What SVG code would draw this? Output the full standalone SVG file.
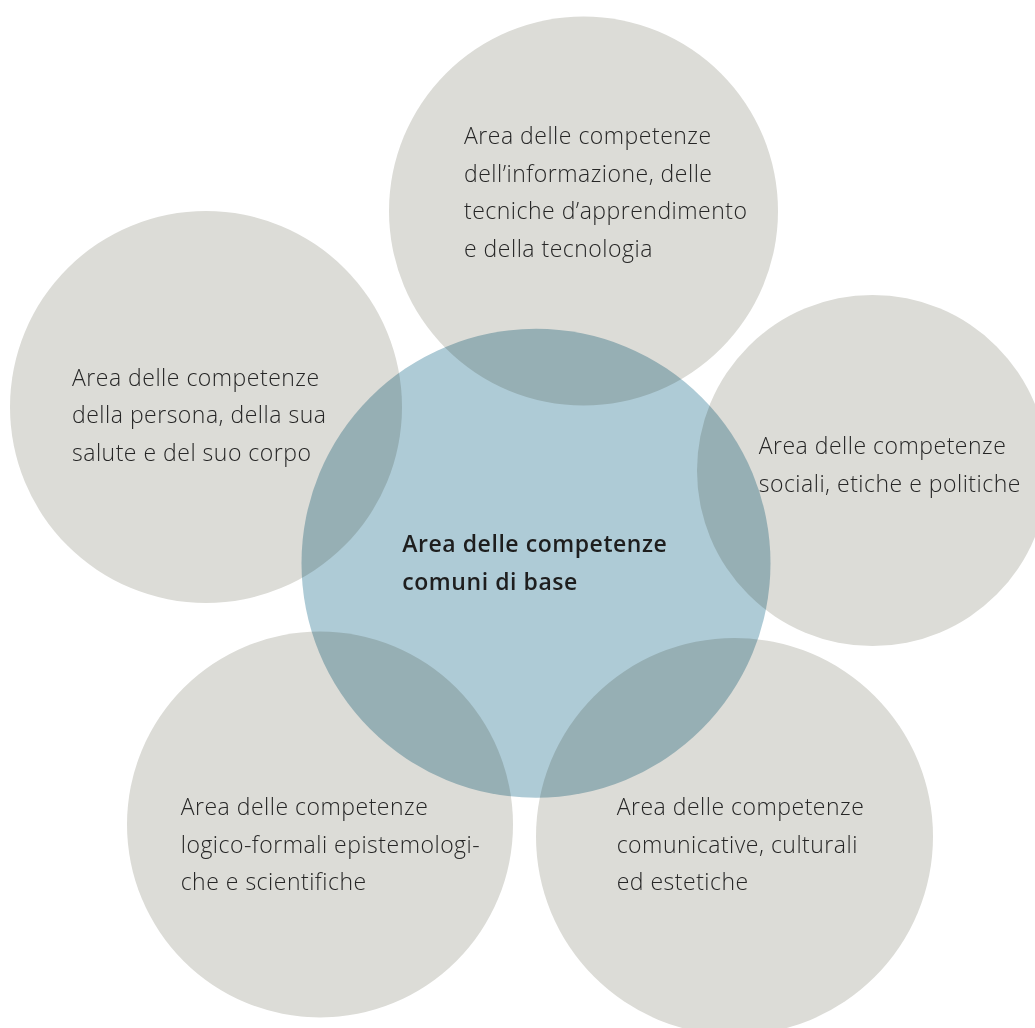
<svg xmlns="http://www.w3.org/2000/svg" width="1035" height="1028" viewBox="0 0 1035 1028">
<style>
.bg{fill:#ffffff}
.area{fill:#dcdcd7}
.core{fill:#aecbd6;mix-blend-mode:multiply}
.lbl{font-family:"Open Sans","Noto Sans","Liberation Sans",sans-serif;font-size:23px;font-weight:300;letter-spacing:0.5px;fill:#262626}
.lblb{font-family:"Open Sans","Noto Sans","Liberation Sans",sans-serif;font-size:23px;font-weight:600;letter-spacing:0.55px;fill:#1e1e1e}
</style>
<rect class="bg" x="0" y="0" width="1035" height="1028"/>
<g id="circles">
<g id="node-top"><circle class="area" cx="583.5" cy="211" r="194.5"/></g>
<g id="node-left"><circle class="area" cx="206" cy="407" r="196"/></g>
<g id="node-right"><circle class="area" cx="872.5" cy="470.5" r="175.5"/></g>
<g id="node-bottom-left"><circle class="area" cx="320" cy="824.5" r="193"/></g>
<g id="node-bottom-right"><circle class="area" cx="734.5" cy="836.5" r="198.5"/></g>
<g id="node-center"><circle class="core" cx="536" cy="563.3" r="234.5"/></g>
</g>
<g id="labels">
<text class="lbl" x="464" y="144">Area delle competenze</text>
<text class="lbl" x="464" y="181.5">dell’informazione, delle</text>
<text class="lbl" x="464" y="219">tecniche d’apprendimento</text>
<text class="lbl" x="464" y="256.5">e della tecnologia</text>

<text class="lbl" x="72" y="385.7">Area delle competenze</text>
<text class="lbl" x="72" y="423.2">della persona, della sua</text>
<text class="lbl" x="72" y="460.7">salute e del suo corpo</text>

<text class="lbl" x="758.7" y="454">Area delle competenze</text>
<text class="lbl" x="758.7" y="491.7">sociali, etiche e politiche</text>

<text class="lbl" x="180.7" y="815">Area delle competenze</text>
<text class="lbl" x="180.7" y="852.5">logico-formali epistemologi-</text>
<text class="lbl" x="180.7" y="890">che e scientifiche</text>

<text class="lbl" x="616.7" y="815">Area delle competenze</text>
<text class="lbl" x="616.7" y="852.5">comunicative, culturali</text>
<text class="lbl" x="616.7" y="890">ed estetiche</text>

<text class="lblb" x="402.3" y="552.3">Area delle competenze</text>
<text class="lblb" x="402.3" y="590">comuni di base</text>
</g>
</svg>
